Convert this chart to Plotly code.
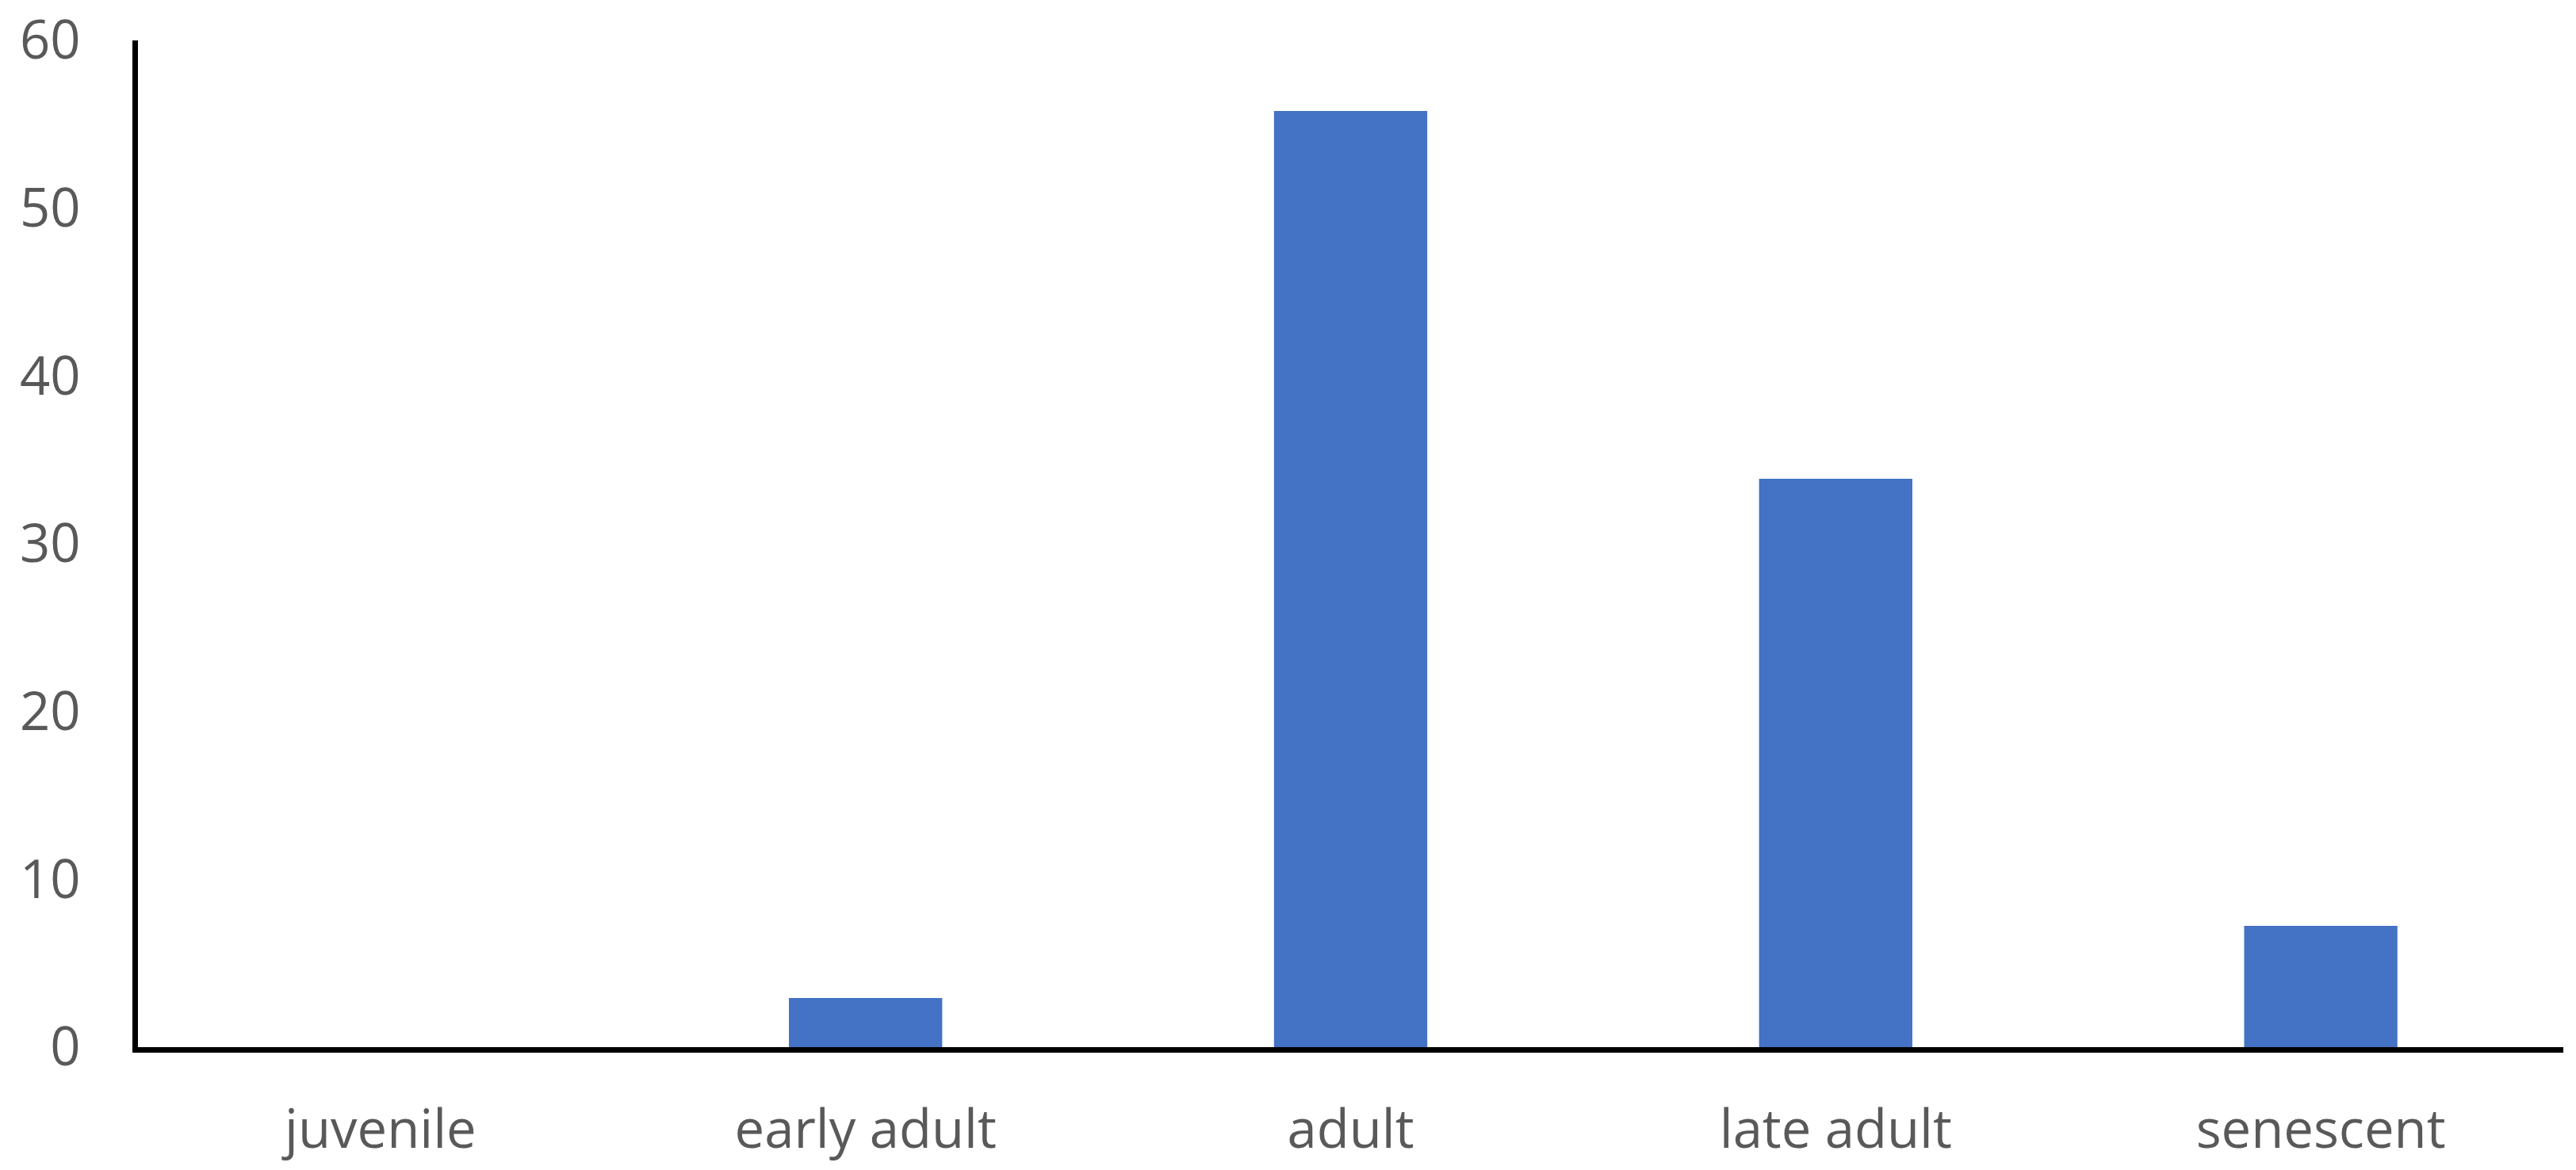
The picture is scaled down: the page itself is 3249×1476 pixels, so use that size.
import plotly.graph_objects as go

# Values
stages = ["juvenile", "early adult", "adult", "late adult", "senescent"]
counts = [0, 2.93, 55.8, 33.87, 7.23]
y_ticks = [0, 10, 20, 30, 40, 50, 60]

fig = go.Figure()
fig.add_trace(
    go.Bar(
        x=stages,
        y=counts,
        marker=dict(color="#4472C4", line=dict(width=0)),
    )
)

fig.update_layout(
    width=3249,
    height=1476,
    margin=dict(l=174, r=16, t=51, b=155),
    plot_bgcolor="white",
    paper_bgcolor="white",
    bargap=0.684,
    showlegend=False,
    font=dict(family="Open Sans", size=67, color="#595959"),
    xaxis=dict(
        automargin=False,
        showgrid=False,
        showline=True,
        linecolor="black",
        linewidth=7,
        ticks="outside",
        ticklen=0,
        tickcolor="white",
        ticklabelstandoff=40,
    ),
    yaxis=dict(
        automargin=False,
        range=[0, 60],
        tickvals=y_ticks,
        showgrid=False,
        zeroline=False,
        showline=True,
        linecolor="black",
        linewidth=7,
        ticks="outside",
        ticklen=0,
        tickcolor="white",
        ticklabelstandoff=52,
        ticklabeloverflow="allow",
    ),
)

# drop the default 8px body margin so the figure fills the window exactly
fig.write_html(
    "out.html",
    config={"displayModeBar": False},
    post_script="document.body.style.margin='0';",
)
